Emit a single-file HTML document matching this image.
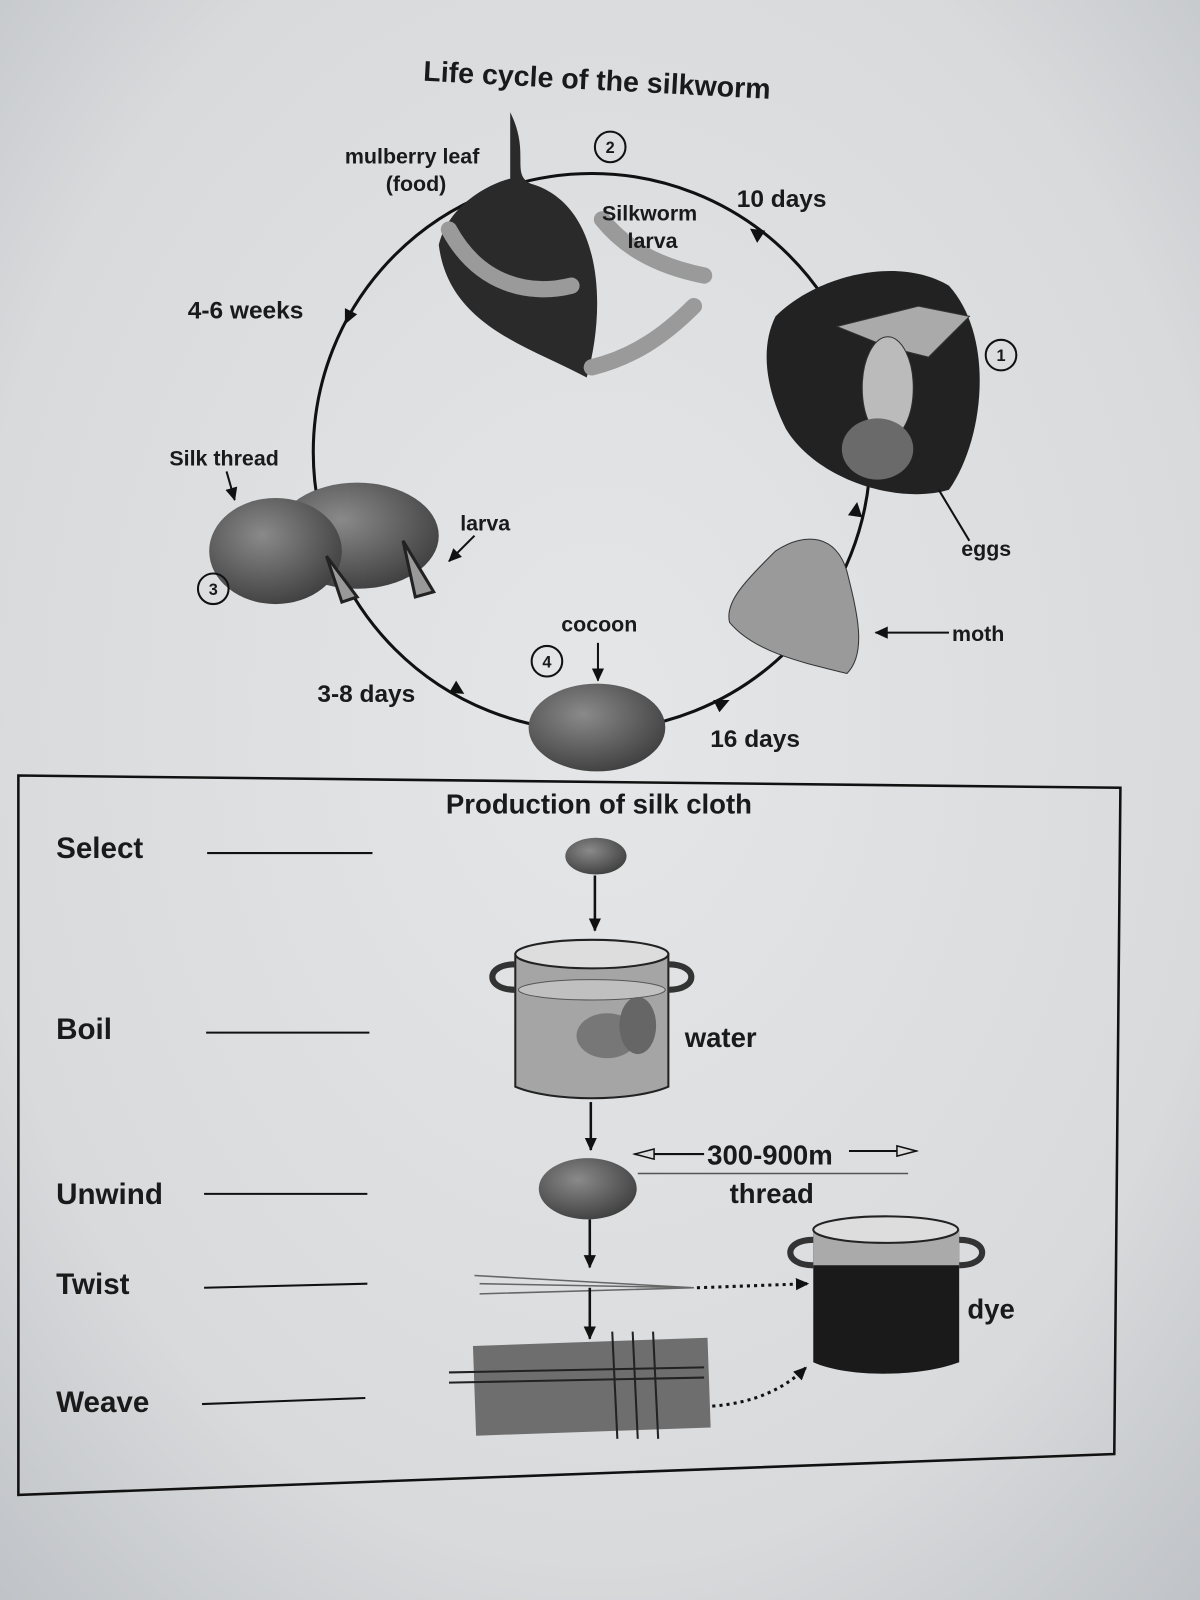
<!DOCTYPE html>
<html><head><meta charset="utf-8"><style>
html,body{margin:0;padding:0;width:1200px;height:1600px;overflow:hidden;background:#d6d8da}
svg{display:block}
text{font-family:"Liberation Sans",sans-serif;font-weight:bold;fill:#1a1a1a}
</style></head><body>
<svg width="1200" height="1600" viewBox="0 0 1176 1568" preserveAspectRatio="none">
<defs>
<radialGradient id="bg" cx="0.5" cy="0.45" r="0.75"><stop offset="0" stop-color="#e4e6e7"/><stop offset="0.7" stop-color="#d8dadc"/><stop offset="1" stop-color="#bfc2c6"/></radialGradient>
<radialGradient id="coc" cx="0.4" cy="0.35" r="0.7"><stop offset="0" stop-color="#8a8a8a"/><stop offset="1" stop-color="#3e3e3e"/></radialGradient>
<marker id="ah" markerUnits="userSpaceOnUse" markerWidth="14" markerHeight="14" refX="12" refY="7" orient="auto"><path d="M0,1 L13,7 L0,13z" fill="#111"/></marker>
<marker id="oh" markerUnits="userSpaceOnUse" markerWidth="22" markerHeight="14" refX="20" refY="7" orient="auto"><path d="M1,2 L20,7 L1,12z" fill="#ddd" stroke="#111" stroke-width="1.5"/></marker>
</defs>
<rect width="1176" height="1568" fill="url(#bg)"/>
<text x="585" y="88" font-size="28" text-anchor="middle" transform="rotate(3 585 80)">Life cycle of the silkworm</text>
<circle cx="580" cy="443" r="273" fill="none" stroke="#111" stroke-width="3"/>
<g fill="#111">
<path d="M735,224 L750,226 L742,238z"/>
<path d="M338,318 L350,308 L338,302z"/>
<path d="M455,680 L440,679 L447,667z"/>
<path d="M715,686 L705,698 L699,686z"/>
<path d="M840,492 L845,507 L831,505z"/>
</g>
<!-- leaf top -->
<path d="M500,110 C520,150 500,170 520,180 C590,200 595,300 575,370 C520,340 440,320 430,240 C440,200 480,180 500,175z" fill="#2a2a2a"/>
<path d="M440,225 C470,280 520,290 560,280 M590,215 C610,240 640,260 690,270 M580,360 C620,350 650,330 680,300" stroke="#9a9a9a" stroke-width="16" fill="none" stroke-linecap="round"/>
<!-- leaf right -->
<path d="M760,310 C800,270 880,250 930,280 C975,330 965,430 930,480 C880,495 800,470 770,420 C750,380 745,340 760,310z" fill="#222"/>
<path d="M820,320 L900,300 L950,310 L910,350 L870,340z" fill="#aaa" stroke="#333"/>
<ellipse cx="870" cy="380" rx="25" ry="50" fill="#bbb" stroke="#333"/>
<ellipse cx="860" cy="440" rx="35" ry="30" fill="#6a6a6a"/>
<line x1="920" y1="480" x2="950" y2="530" stroke="#111" stroke-width="2"/>
<!-- moth -->
<path d="M760,540 C790,520 820,525 830,560 C840,600 850,640 830,660 C790,650 740,640 715,610 C710,590 730,570 760,540z" fill="#9a9a9a" stroke="#333"/>
<line x1="930" y1="620" x2="858" y2="620" stroke="#111" stroke-width="2" marker-end="url(#ah)"/>
<!-- cocoons left -->
<ellipse cx="350" cy="525" rx="80" ry="52" fill="url(#coc)"/>
<ellipse cx="270" cy="540" rx="65" ry="52" fill="url(#coc)"/>
<path d="M395,530 l30,50 l-18,5z" fill="#999" stroke="#222" stroke-width="3"/>
<path d="M320,545 l30,40 l-15,5z" fill="#999" stroke="#222" stroke-width="3"/>
<line x1="222" y1="462" x2="230" y2="490" stroke="#111" stroke-width="2" marker-end="url(#ah)"/>
<line x1="465" y1="525" x2="440" y2="550" stroke="#111" stroke-width="2" marker-end="url(#ah)"/>
<!-- cocoon bottom -->
<ellipse cx="585" cy="713" rx="67" ry="43" fill="url(#coc)"/>
<line x1="586" y1="630" x2="586" y2="667" stroke="#111" stroke-width="2" marker-end="url(#ah)"/>
<g fill="none" stroke="#111" stroke-width="2">
<circle cx="598" cy="144" r="15"/><circle cx="981" cy="348" r="15"/><circle cx="209" cy="577" r="15"/><circle cx="536" cy="648" r="15"/></g>
<text x="598" y="150" font-size="16" text-anchor="middle">2</text>
<text x="981" y="354" font-size="16" text-anchor="middle">1</text>
<text x="209" y="583" font-size="16" text-anchor="middle">3</text>
<text x="536" y="654" font-size="16" text-anchor="middle">4</text>
<g font-size="21">
<text x="338" y="160">mulberry leaf</text><text x="378" y="187">(food)</text>
<text x="722" y="203" font-size="24">10 days</text>
<text x="590" y="216">Silkworm</text><text x="615" y="243">larva</text>
<text x="184" y="312" font-size="24">4-6 weeks</text>
<text x="166" y="456">Silk thread</text>
<text x="451" y="520">larva</text>
<text x="942" y="545">eggs</text>
<text x="933" y="628">moth</text>
<text x="550" y="619">cocoon</text>
<text x="311" y="688" font-size="24">3-8 days</text>
<text x="696" y="732" font-size="24">16 days</text>
</g>
<!-- box -->
<path d="M18,760 L1098,772 L1092,1425 L18,1465 Z" fill="none" stroke="#111" stroke-width="2.5"/>
<text x="587" y="797" font-size="27" text-anchor="middle">Production of silk cloth</text>
<g font-size="29">
<text x="55" y="841">Select</text><text x="55" y="1018">Boil</text><text x="55" y="1180">Unwind</text><text x="55" y="1268">Twist</text><text x="55" y="1384">Weave</text></g>
<g stroke="#111" stroke-width="2">
<line x1="203" y1="836" x2="365" y2="836"/><line x1="202" y1="1012" x2="362" y2="1012"/><line x1="200" y1="1170" x2="360" y2="1170"/><line x1="200" y1="1262" x2="360" y2="1258"/><line x1="198" y1="1376" x2="358" y2="1370"/></g>
<ellipse cx="584" cy="839" rx="30" ry="18" fill="url(#coc)"/>
<line x1="583" y1="858" x2="583" y2="912" stroke="#111" stroke-width="2.5" marker-end="url(#ah)"/>
<!-- pot -->
<path d="M505,935 L655,935 L655,1065 C620,1080 540,1080 505,1065Z" fill="#a5a5a5" stroke="#222" stroke-width="2"/>
<ellipse cx="580" cy="935" rx="75" ry="14" fill="#ddd" stroke="#222" stroke-width="2"/>
<ellipse cx="580" cy="970" rx="72" ry="10" fill="#c0c0c0" stroke="#555"/>
<path d="M505,945 c-30,0 -30,25 0,25 M655,945 c30,0 30,25 0,25" fill="none" stroke="#333" stroke-width="6"/>
<ellipse cx="595" cy="1015" rx="30" ry="22" fill="#777"/>
<ellipse cx="625" cy="1005" rx="18" ry="28" fill="#666"/>
<text x="671" y="1026" font-size="27">water</text>
<line x1="579" y1="1080" x2="579" y2="1127" stroke="#111" stroke-width="2.5" marker-end="url(#ah)"/>
<ellipse cx="576" cy="1165" rx="48" ry="30" fill="url(#coc)"/>
<line x1="625" y1="1150" x2="890" y2="1150" stroke="#555" stroke-width="1.5"/>
<line x1="690" y1="1131" x2="622" y2="1131" stroke="#111" stroke-width="2" marker-end="url(#oh)"/>
<line x1="832" y1="1128" x2="898" y2="1128" stroke="#111" stroke-width="2" marker-end="url(#oh)"/>
<text x="693" y="1141" font-size="27">300-900m</text>
<text x="715" y="1179" font-size="27">thread</text>
<line x1="578" y1="1195" x2="578" y2="1242" stroke="#111" stroke-width="2.5" marker-end="url(#ah)"/>
<path d="M465,1250 L680,1262 M470,1258 L680,1262 M470,1268 L680,1262" stroke="#666" stroke-width="1.5"/>
<line x1="578" y1="1262" x2="578" y2="1312" stroke="#111" stroke-width="2.5" marker-end="url(#ah)"/>
<line x1="683" y1="1262" x2="792" y2="1258" stroke="#111" stroke-width="3" stroke-dasharray="3,4" marker-end="url(#ah)"/>
<!-- fabric -->
<rect x="465" y="1315" width="230" height="88" fill="#6e6e6e" transform="rotate(-2 580 1360)"/>
<g stroke="#222" stroke-width="2"><line x1="440" y1="1345" x2="690" y2="1340"/><line x1="440" y1="1355" x2="690" y2="1350"/><line x1="600" y1="1305" x2="605" y2="1410"/><line x1="620" y1="1305" x2="625" y2="1410"/><line x1="640" y1="1305" x2="645" y2="1410"/></g>
<path d="M698,1378 C740,1375 770,1360 790,1340" fill="none" stroke="#111" stroke-width="3" stroke-dasharray="3,4" marker-end="url(#ah)"/>
<!-- dye pot -->
<path d="M797,1205 L940,1205 L940,1335 C900,1350 830,1350 797,1335Z" fill="#1a1a1a"/>
<path d="M797,1205 L940,1205 L940,1240 L797,1240Z" fill="#aaa"/>
<ellipse cx="868" cy="1205" rx="71" ry="13" fill="#ddd" stroke="#222" stroke-width="2"/>
<path d="M797,1215 c-30,0 -30,25 0,25 M940,1215 c30,0 30,25 0,25" fill="none" stroke="#333" stroke-width="6"/>
<text x="948" y="1292" font-size="27">dye</text>
</svg>
</body></html>
